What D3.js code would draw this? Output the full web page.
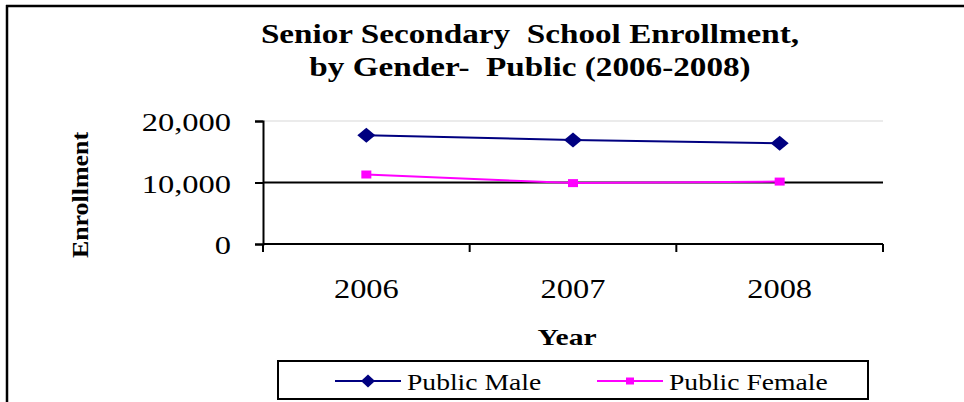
<!DOCTYPE html>
<meta charset="utf-8">
<style>
body { margin: 0; background: #fff; }
svg text { font-family: "Liberation Serif", "Times New Roman", serif; fill: #000; }
.title { font-weight: bold; font-size: 27px; }
.axis-title { font-weight: bold; font-size: 24px; }
.y-label { font-size: 25px; }
.x-label { font-size: 27px; }
.legend text { font-size: 24px; }
</style>

<svg width="964" height="402"></svg>

<script src="https://d3js.org/d3.v7.min.js"></script>
<script>

var years = ["2006", "2007", "2008"];
var publicMale = [17700, 16900, 16400];
var publicFemale = [11300, 9900, 10150];
var yTicks = [0, 10000, 20000];

// marker shapes: half width, half height
function diamond(w, h) {
  return "M" + (-w) + ",0L0," + (-h) + "L" + w + ",0L0," + h + "Z";
}
function rect(w, h) {
  return "M" + (-w) + "," + (-h) + "H" + w + "V" + h + "H" + (-w) + "Z";
}

var series = [
  {name: "Public Male", values: publicMale, color: "#000080",
   marker: diamond(9, 7.5), legendMarker: diamond(7, 6.5)},
  {name: "Public Female", values: publicFemale, color: "#ff00ff",
   marker: rect(5, 4), legendMarker: rect(4, 3.5)}
];

var svg = d3.select("svg");

// text drawn with a horizontal stretch, like the original picture
function stretchText(parent, cls, x, y, sx, anchor, str) {
  return parent.append("text")
      .attr("class", cls)
      .attr("transform", "translate(" + x + "," + y + ") scale(" + sx + ",1)")
      .attr("text-anchor", anchor)
      .text(str);
}

// outer frame (top and left edges visible)
svg.append("line").attr("x1", 6).attr("x2", 964).attr("y1", 6).attr("y2", 6)
    .attr("stroke", "#000").attr("stroke-width", 2.5);
svg.append("line").attr("x1", 7).attr("x2", 7).attr("y1", 5).attr("y2", 402)
    .attr("stroke", "#000").attr("stroke-width", 2.5);

var x = d3.scaleBand()
    .domain(years)
    .range([263, 883]);

var y = d3.scaleLinear()
    .domain([0, 20000])
    .range([244, 121]);

// title
stretchText(svg, "title", 530, 43, 1.23, "middle", "Senior Secondary  School Enrollment,")
    .style("white-space", "pre");
stretchText(svg, "title", 530, 76, 1.23, "middle", "by Gender-  Public (2006-2008)")
    .style("white-space", "pre");

// gridlines
svg.append("g").selectAll("line")
    .data(yTicks.filter(function(d) { return d > 0; }))
    .enter().append("line")
      .attr("x1", 263).attr("x2", 883)
      .attr("y1", function(d) { return y(d); })
      .attr("y2", function(d) { return y(d); })
      .attr("stroke", function(d) { return d === 10000 ? "#000" : "#e4e4e4"; })
      .attr("stroke-width", function(d) { return d === 10000 ? 2 : 1.5; });

// y axis
var yAxis = svg.append("g")
    .attr("transform", "translate(263,0)")
    .call(d3.axisLeft(y).tickValues(yTicks).tickSize(8).tickFormat(""));
yAxis.select(".domain").attr("stroke", "#000").attr("stroke-width", 2);
yAxis.selectAll(".tick line").attr("stroke", "#000").attr("stroke-width", 2);
yTicks.forEach(function(d) {
  stretchText(svg, "y-label", 231, y(d) + 10, 1.3, "end", d3.format(",")(d));
});

// x axis: ticks at category boundaries
var xAxis = svg.append("g")
    .attr("transform", "translate(0,244)");
xAxis.append("line").attr("x1", 263).attr("x2", 883).attr("y1", 0).attr("y2", 0)
    .attr("stroke", "#000").attr("stroke-width", 2);
var bounds = years.map(function(d) { return x(d); }).concat([x.range()[1]]);
xAxis.selectAll(".xt").data(bounds).enter().append("line")
    .attr("x1", function(d) { return d; }).attr("x2", function(d) { return d; })
    .attr("y1", 0).attr("y2", 8)
    .attr("stroke", "#000").attr("stroke-width", 2);
years.forEach(function(d) {
  stretchText(svg, "x-label", x(d) + x.bandwidth() / 2, 298, 1.2, "middle", d);
});

// axis titles
stretchText(svg, "axis-title", 567, 345, 1.23, "middle", "Year");
svg.append("text").attr("class", "axis-title")
    .attr("transform", "translate(88,195) rotate(-90) scale(1.08,1)")
    .attr("text-anchor", "middle")
    .text("Enrollment");

// lines and markers
var line = d3.line()
    .x(function(d, i) { return x(years[i]) + x.bandwidth() / 2; })
    .y(function(d) { return y(d); });

series.forEach(function(s) {
  svg.append("path")
      .datum(s.values)
      .attr("fill", "none")
      .attr("stroke", s.color)
      .attr("stroke-width", 2)
      .attr("d", line);
  svg.append("g").selectAll("path")
    .data(s.values)
    .enter().append("path")
      .attr("transform", function(d, i) {
        return "translate(" + (x(years[i]) + x.bandwidth() / 2) + "," + y(d) + ")";
      })
      .attr("d", s.marker)
      .attr("fill", s.color);
});

// legend
var legend = svg.append("g").attr("class", "legend");
legend.append("rect")
    .attr("x", 278).attr("y", 361).attr("width", 590).attr("height", 38)
    .attr("fill", "#fff").attr("stroke", "#000").attr("stroke-width", 2);
var legendX = [335, 597];
series.forEach(function(s, i) {
  var g = legend.append("g").attr("transform", "translate(" + legendX[i] + ",381)");
  g.append("line").attr("x1", 0).attr("x2", 66).attr("y1", 0).attr("y2", 0)
      .attr("stroke", s.color).attr("stroke-width", 2);
  g.append("path").attr("transform", "translate(33,0)")
      .attr("d", s.legendMarker)
      .attr("fill", s.color);
  stretchText(g, "", 72, 9, 1.15, "start", s.name);
});

</script>
